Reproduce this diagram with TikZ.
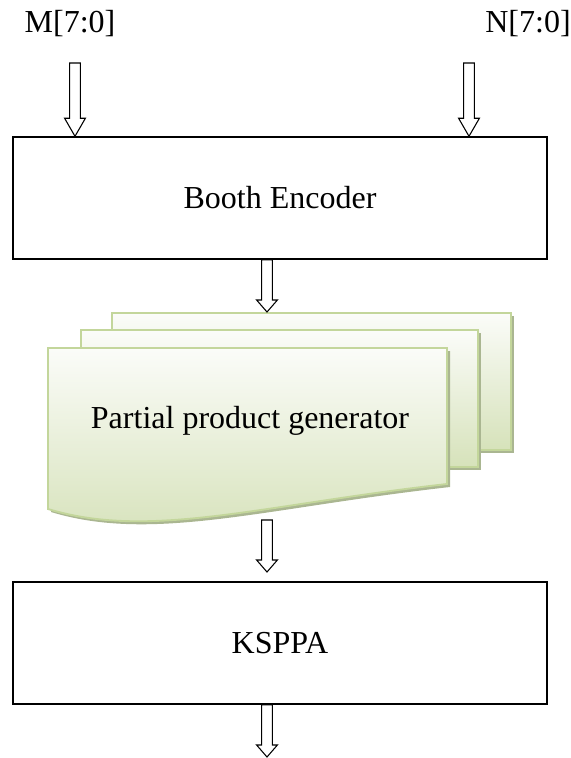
\documentclass[tikz,border=0pt]{standalone}
\usepackage{fontspec}
\setmainfont{Liberation Serif}
\usetikzlibrary{calc}

\definecolor{pageline}{RGB}{195,214,155}
\definecolor{pagetop}{RGB}{251,252,249}
\definecolor{pagebot}{RGB}{214,226,186}
\definecolor{pageshade}{RGB}{170,182,145}

% hollow block arrow, straight down: from (#1) to tip (#2), head length #3
\newcommand{\blockarrow}[3]{%
  \draw[blockarr] let \p1=(#1), \p2=(#2) in
    (\x1-4pt,\y1) -- (\x1-4pt,\y2+#3) -- (\x1-7.8pt,\y2+#3) -- (\x1,\y2)
    -- (\x1+7.8pt,\y2+#3) -- (\x1+4pt,\y2+#3) -- (\x1+4pt,\y1) -- cycle;}

\tikzset{
  box/.style={draw, fill=white, line width=1.1pt, minimum width=400.5pt,
    minimum height=91.5pt, inner sep=0pt, font=\fontsize{24}{28}\selectfont},
  lbl/.style={inner sep=0pt, font=\fontsize{24}{28}\selectfont},
  page/.style={draw=pageline, line width=1.4pt, top color=pagetop, bottom color=pagebot},
  blockarr/.style={draw, fill=white, line width=0.8pt, line join=miter}
}

\begin{document}
\begin{tikzpicture}[x=0.75pt, y=-0.75pt]
		\useasboundingbox (0,0) rectangle (571,758);
		
		%%%%% inputs %%%%%
		\node[lbl] (mlab) at (70,24) {M[7:0]};
		\node[lbl] (nlab) at (528,24) {N[7:0]};
		\coordinate (m src) at (75,63);
		\coordinate (n src) at (469,63);
		
		\node[box] (booth) at (280,198) {Booth Encoder};
		
		%%%%% partial products, three pages %%%%%
		\fill[pageshade] (115,316) rectangle (514,453);
		\draw[page] (112,313) rectangle (511,450);
		
		\fill[pageshade] (84,333) rectangle (481,470);
		\draw[page] (81,330) rectangle (478,467);
		
		\fill[pageshade] (51,351) -- (450,351) -- (450,487) .. controls (263,508) and (153,543) .. (51,512) -- cycle;
		\draw[page] (48,348) -- (447,348) -- (447,484) .. controls (260,505) and (150,540) .. (48,509) -- cycle;
		
		\node[lbl] (ppg) at (250,421) {Partial product generator};
		\coordinate (pp top) at (267,312);
		\coordinate (pp bot) at (267,520);
		\coordinate (ks tip) at (267,572);
		
		\node[box] (ksppa) at (280,643) {KSPPA};
		\coordinate (out) at (267,757);
		
		%%%%% arrows %%%%%
		\blockarrow{m src}{m src |- booth.north}{13.5pt}
		\blockarrow{n src}{n src |- booth.north}{13.5pt}
		\blockarrow{booth.south -| pp top}{pp top}{9pt}
		\blockarrow{pp bot}{ks tip}{9pt}
		\blockarrow{ksppa.south -| out}{out}{9pt}
		
	\end{tikzpicture}
\end{document}
